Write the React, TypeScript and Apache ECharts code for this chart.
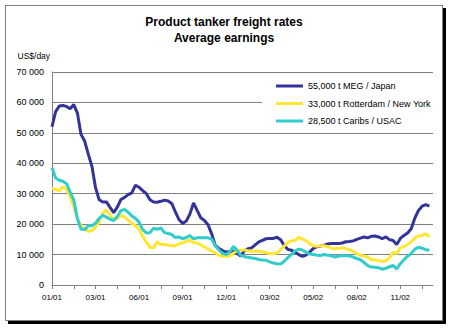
import React, { useEffect, useRef } from "react";
import * as echarts from "echarts";

const FONT = "'Liberation Sans', Arial, sans-serif";

// weekly observations, first week ending 5 Jan 2001
const START_UTC = Date.UTC(2001, 0, 5);
const WEEK_COUNT = 106;
const categories: string[] = Array.from({ length: WEEK_COUNT }, (_, i) => {
  const d = new Date(START_UTC + i * 7 * 86400000);
  const mm = String(d.getUTCMonth() + 1).padStart(2, "0");
  const yy = String(d.getUTCFullYear() % 100).padStart(2, "0");
  return `${mm}/${yy}`;
});

const seriesNames = [
  "55,000 t MEG / Japan",
  "33,000 t Rotterdam / New York",
  "28,500 t Caribs / USAC",
];

const megJapan = [
  52000, 57000, 58800, 59000, 58700, 57900, 59300, 56500, 49500, 47300,
  43000, 39000, 32000, 28000, 27300, 27300, 25500, 23800, 25600, 28100,
  28800, 29700, 30300, 32800, 32100, 31000, 30000, 28000, 27300, 27200,
  27500, 27900, 27600, 26800, 24000, 21500, 20200, 21000, 23300, 27000,
  24500, 22100, 21200, 19800, 16800, 13000, 12000, 11300, 10800, 11000,
  11100, 10400, 9500, 11200, 11900, 12200, 13200, 14200, 14700, 15200,
  15300, 15300, 15700, 14900, 13000, 11700, 11400, 10800, 10000, 9400,
  9800, 10800, 12000, 12600, 12800, 13100, 13500, 13600, 13600, 13600,
  13800, 14200, 14300, 14500, 15000, 15400, 15800, 15500, 16000, 16100,
  15800, 15200, 15800, 14900, 14600, 13300, 15300, 16300, 17100, 18500,
  22000, 24500, 25900, 26400, 25900,
];

const rotterdamNY = [
  31600, 31500, 30900, 32300, 31500, 29000, 25800, 21800, 19600, 18300,
  17700, 17800, 19100, 20700, 23700, 24700, 23000, 21300, 21800, 22900,
  22400, 21300, 20200, 19500, 18300, 16000, 14000, 12400, 12200, 14200,
  13300, 13300, 13100, 12900, 12900, 13500, 13900, 14300, 14800, 14000,
  13800, 13200, 12500, 11800, 11200, 10500, 9800, 9500, 9400, 9500,
  10500, 11200, 11500, 11500, 11300, 11100, 11100, 11100, 10900, 10600,
  10300, 10300, 10500, 11600, 12800, 14000, 14500, 14700, 15700, 15100,
  14600, 13600, 12900, 12700, 12900, 12900, 12600, 12100, 11900, 12100,
  12200, 11900, 11600, 11000, 10300, 9700, 9500, 9200, 8300, 8300,
  8000, 7800, 7900, 8900, 10700, 10300, 12200, 12700, 13300, 14200,
  15400, 16200, 16200, 16900, 15800,
];

const caribsUSAC = [
  38500, 35200, 34400, 34100, 33300, 30500, 28000, 21800, 18300, 18200,
  19500, 19500, 20300, 21900, 22900, 22300, 21600, 21200, 22500, 24500,
  24800, 23900, 22700, 21900, 20600, 18200, 17100, 17200, 18700, 18300,
  18800, 17200, 16900, 16600, 15600, 15800, 15200, 15600, 16200, 15200,
  15500, 15500, 15500, 15500, 15100, 12900, 11500, 10400, 10000, 10900,
  12700, 11400, 9800, 9300, 9100, 8900, 8700, 8400, 8200, 8100,
  7600, 7200, 7000, 6900, 7800, 9000, 10100, 11200, 11800, 11500,
  10800, 10200, 10000, 9800, 9700, 10000, 9800, 9600, 9200, 9500,
  9600, 9600, 9500, 9200, 8700, 8300, 7400, 6400, 5900, 5800,
  5700, 5200, 5500, 6000, 6400, 5300, 7000, 8300, 9500, 10300,
  11800, 12400, 12100, 11600, 11400,
];

const seriesColors = ["#333399", "#FFE633", "#33CCCC"];

const Y_MIN = 0;
const Y_MAX = 70000;
const Y_STEP = 10000;

function fmtThousands(v: number): string {
  return String(Math.round(v)).replace(/\B(?=(\d{3})+(?!\d))/g, " ");
}

export default function App() {
  const ref = useRef<HTMLDivElement>(null);

  useEffect(() => {
    if (!ref.current) return;
    const chart = echarts.init(ref.current, undefined, { renderer: "svg" });
    const datasets = [megJapan, rotterdamNY, caribsUSAC];
    chart.setOption({
      animation: false,
      textStyle: { fontFamily: FONT },
      grid: { left: 52, right: 19, top: 72, bottom: 43 },
      graphic: [
        {
          type: "rect",
          z: 1,
          shape: { x: 262, y: 74, width: 171, height: 57 },
          style: { fill: "#ffffff" },
        },
        {
          type: "text",
          x: 224,
          y: 21.6,
          style: {
            text: "Product tanker freight rates",
            font: `bold 12px ${FONT}`,
            fill: "#000",
            textAlign: "center",
            textVerticalAlign: "middle",
          },
        },
        {
          type: "text",
          x: 224,
          y: 37.8,
          style: {
            text: "Average earnings",
            font: `bold 12px ${FONT}`,
            fill: "#000",
            textAlign: "center",
            textVerticalAlign: "middle",
          },
        },
        {
          type: "text",
          x: 17.5,
          y: 55.5,
          style: {
            text: "US$/day",
            font: `8.5px ${FONT}`,
            fill: "#000",
            textAlign: "left",
            textVerticalAlign: "middle",
          },
        },
      ],
      legend: {
        orient: "vertical",
        left: 276,
        top: 80,
        padding: 0,
        itemGap: 5.5,
        itemWidth: 27,
        itemHeight: 3,
        icon: "rect",
        data: seriesNames,
        textStyle: { fontSize: 9, lineHeight: 12, color: "#000", fontFamily: FONT },
      },
      xAxis: {
        type: "category",
        data: categories,
        boundaryGap: false,
        axisLine: { lineStyle: { color: "#808080", width: 1 } },
        axisTick: { show: true, interval: 5, length: 4, lineStyle: { color: "#808080" } },
        axisLabel: { interval: 11, fontSize: 8, color: "#000", margin: 8, fontFamily: FONT },
        splitLine: { show: false },
      },
      yAxis: {
        type: "value",
        min: Y_MIN,
        max: Y_MAX,
        interval: Y_STEP,
        axisLine: { show: true, lineStyle: { color: "#808080", width: 1 } },
        axisTick: { show: false },
        axisLabel: {
          fontSize: 9,
          color: "#000",
          margin: 8,
          fontFamily: FONT,
          formatter: (v: number) => fmtThousands(v),
        },
        splitLine: { show: true, lineStyle: { color: "#808080", width: 1 } },
      },
      series: datasets.map((d, k) => ({
        name: seriesNames[k],
        type: "line",
        data: d,
        showSymbol: false,
        symbol: "none",
        z: 2,
        color: seriesColors[k],
        lineStyle: { width: 3, color: seriesColors[k] },
      })),
    });
    return () => chart.dispose();
  }, []);

  return (
    <div style={{ position: "fixed", left: 0, top: 0, width: 452, height: 328, background: "#fff" }}>
      <div
        style={{
          position: "absolute",
          left: 5,
          top: 5,
          width: 436,
          height: 314,
          border: "1px solid #808080",
          boxShadow: "3px 3px 0 0 #000",
          background: "#fff",
        }}
      />
      <div ref={ref} style={{ position: "absolute", left: 0, top: 0, width: 452, height: 328 }} />
    </div>
  );
}
